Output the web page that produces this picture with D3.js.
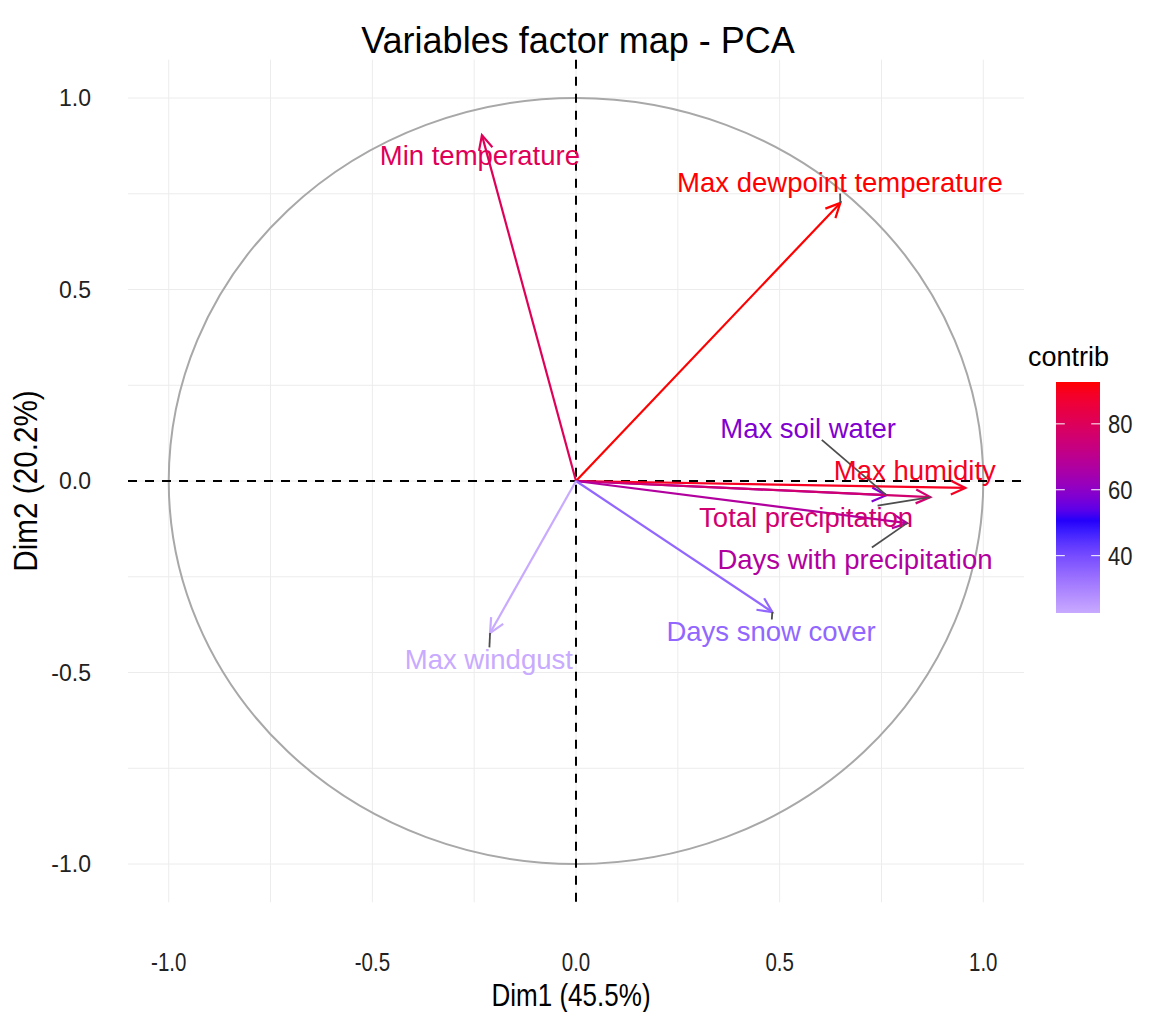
<!DOCTYPE html>
<html><head><meta charset="utf-8">
<script src="https://cdn.jsdelivr.net/npm/d3@7"></script>
<style>body{margin:0;background:#fff}svg{display:block}</style>
</head><body>
<script>
const variables = ["Min temperature","Max dewpoint temperature","Max soil water","Max humidity","Total precipitation","Days with precipitation","Days snow cover","Max windgust"];
const dim1 = [-0.231, 0.649, 0.762, 0.956, 0.870, 0.813, 0.482, -0.211];
const dim2 = [0.903, 0.726, -0.037, -0.018, -0.042, -0.110, -0.342, -0.397];
const contrib = [80.5, 92.7, 58.2, 89.5, 76.0, 67.3, 34.9, 22.6];
// repelled label positions (data units)
const labelX = [-0.236, 0.648, 0.570, 0.832, 0.565, 0.685, 0.479, -0.214];
const labelY = [0.850, 0.781, 0.138, 0.029, -0.095, -0.204, -0.392, -0.465];
const showSegment = [false, true, true, false, true, true, true, true];
const tickValues = [-1.0, -0.5, 0.0, 0.5, 1.0];
const gridValues = [-1.0,-0.75,-0.5,-0.25,0,0.25,0.5,0.75,1.0];
const legendTicks = [40, 60, 80];
const titleText = "Variables factor map - PCA";
const xTitle = "Dim1 (45.5%)", yTitle = "Dim2 (20.2%)";

const W = 1154, H = 1012;
const svg = d3.select("body").append("svg").attr("width", W).attr("height", H);
const x = d3.scaleLinear().domain([-1.1, 1.1]).range([128, 1024]);
const y = d3.scaleLinear().domain([-1.1, 1.1]).range([902.3, 59.7]);
const cmin = d3.min(contrib), cmax = d3.max(contrib), mid = 50;
const half = Math.max(cmax - mid, mid - cmin);
const color = d3.scaleLinear().domain([mid - half, mid, mid + half])
  .range(["white", "blue", "red"]).interpolate(d3.interpolateLab);
const fmt = d => d3.format(".1f")(d).replace("\u2212", "-");

const font = "'Liberation Sans', Arial, sans-serif";

// grid
const g = svg.append("g");
g.selectAll(".gx").data(gridValues).join("line")
  .attr("x1", d => x(d)).attr("x2", d => x(d)).attr("y1", y.range()[1]).attr("y2", y.range()[0])
  .attr("stroke", "#ececec").attr("stroke-width", 1);
g.selectAll(".gy").data(gridValues).join("line")
  .attr("y1", d => y(d)).attr("y2", d => y(d)).attr("x1", x.range()[0]).attr("x2", x.range()[1])
  .attr("stroke", "#ececec").attr("stroke-width", 1);

// circle
g.append("ellipse").attr("cx", x(0)).attr("cy", y(0))
  .attr("rx", x(1) - x(0)).attr("ry", y(0) - y(1))
  .attr("fill", "none").attr("stroke", "#a8a8a8").attr("stroke-width", 2);

// dashed axes
g.append("line").attr("x1", x.range()[0]).attr("x2", x.range()[1]).attr("y1", y(0)).attr("y2", y(0))
  .attr("stroke", "#000").attr("stroke-width", 2).attr("stroke-dasharray", "9,8");
g.append("line").attr("y1", y.range()[1]).attr("y2", y.range()[0]).attr("x1", x(0)).attr("x2", x(0))
  .attr("stroke", "#000").attr("stroke-width", 2).attr("stroke-dasharray", "9,8");

// arrows
const data = variables.map((v, i) => ({name: v, x: dim1[i], y: dim2[i], c: contrib[i], lx: labelX[i], ly: labelY[i], seg: showSegment[i]}));
const headLen = 16, headAng = Math.PI / 7;
const ag = svg.append("g");
data.forEach(d => {
  const x0 = x(0), y0 = y(0), x1 = x(d.x), y1 = y(d.y);
  const col = color(d.c);
  ag.append("line").attr("x1", x0).attr("y1", y0).attr("x2", x1).attr("y2", y1)
    .attr("stroke", col).attr("stroke-width", 2.2);
  const a = Math.atan2(y1 - y0, x1 - x0);
  const p = [[x1 - headLen * Math.cos(a - headAng), y1 - headLen * Math.sin(a - headAng)], [x1, y1],
             [x1 - headLen * Math.cos(a + headAng), y1 - headLen * Math.sin(a + headAng)]];
  ag.append("path").attr("d", d3.line()(p)).attr("fill", "none").attr("stroke", col)
    .attr("stroke-width", 2.2).attr("stroke-linejoin", "miter");
});

// labels + repel segments
const fs = 27.5;
const lg = svg.append("g");
data.forEach(d => {
  const cx = x(d.lx), cy = y(d.ly);
  const t = lg.append("text").attr("x", cx).attr("y", cy + 0.358 * fs).attr("text-anchor", "middle")
    .attr("font-family", font).attr("font-size", fs)
    .attr("fill", color(d.c)).text(d.name);
  if (d.seg) {
    const bb = t.node().getBBox();
    const hw = bb.width / 2 + 2, hh = 0.5 * fs * 0.85;
    const tx = x(d.x), ty = y(d.y);
    const dx = tx - cx, dy = ty - cy;
    const s = Math.min(dx !== 0 ? hw / Math.abs(dx) : Infinity, dy !== 0 ? hh / Math.abs(dy) : Infinity);
    if (s < 1) {
      lg.insert("line", "text").attr("x1", cx + dx * s).attr("y1", cy + dy * s).attr("x2", tx).attr("y2", ty)
        .attr("stroke", "#4d4d4d").attr("stroke-width", 1.8);
    }
  }
});

// axis tick labels
svg.selectAll(".xt").data(tickValues).join("text")
  .attr("transform", d => `translate(${x(d)},971) scale(0.82,1)`).attr("text-anchor", "middle")
  .attr("font-family", font).attr("font-size", 25).attr("fill", "#222")
  .text(fmt);
svg.selectAll(".yt").data(tickValues).join("text")
  .attr("x", 91).attr("y", d => y(d) + 0.358 * 23).attr("text-anchor", "end")
  .attr("font-family", font).attr("font-size", 23).attr("fill", "#222")
  .text(fmt);

// axis titles
svg.append("text").attr("transform", "translate(571,1006) scale(0.84,1)").attr("text-anchor", "middle")
  .attr("font-family", font).attr("font-size", 31).attr("fill", "#000").text(xTitle);
svg.append("text").attr("transform", `translate(37,481) rotate(-90) scale(0.9,1)`).attr("text-anchor", "middle")
  .attr("font-family", font).attr("font-size", 33).attr("fill", "#000").text(yTitle);

// title
svg.append("text").attr("x", 578).attr("y", 53).attr("text-anchor", "middle")
  .attr("font-family", font).attr("font-size", 36).attr("fill", "#000").text(titleText);

// legend
const lyS = d3.scaleLinear().domain([cmin, cmax]).range([613, 382]);
const defs = svg.append("defs");
const grad = defs.append("linearGradient").attr("id", "cg").attr("x1", 0).attr("x2", 0).attr("y1", 1).attr("y2", 0);
d3.range(0, 21).forEach(i => {
  const v = cmin + (cmax - cmin) * i / 20;
  grad.append("stop").attr("offset", (i / 20 * 100) + "%").attr("stop-color", color(v));
});
const bx = 1056, bw = 44;
svg.append("rect").attr("x", bx).attr("y", lyS(cmax)).attr("width", bw).attr("height", lyS(cmin) - lyS(cmax))
  .attr("fill", "url(#cg)");
legendTicks.forEach(v => {
  svg.append("line").attr("x1", bx).attr("x2", bx + bw / 5).attr("y1", lyS(v)).attr("y2", lyS(v)).attr("stroke", "#fff").attr("stroke-width", 1);
  svg.append("line").attr("x1", bx + bw - bw / 5).attr("x2", bx + bw).attr("y1", lyS(v)).attr("y2", lyS(v)).attr("stroke", "#fff").attr("stroke-width", 1);
  svg.append("text").attr("transform", `translate(1108,${lyS(v) + 0.358 * 25}) scale(0.88,1)`)
    .attr("font-family", font).attr("font-size", 25).attr("fill", "#222").text(v);
});
svg.append("text").attr("transform", "translate(1028,366)").attr("font-family", font).attr("font-size", 27)
  .attr("fill", "#000").text("contrib");
</script>
</body></html>
